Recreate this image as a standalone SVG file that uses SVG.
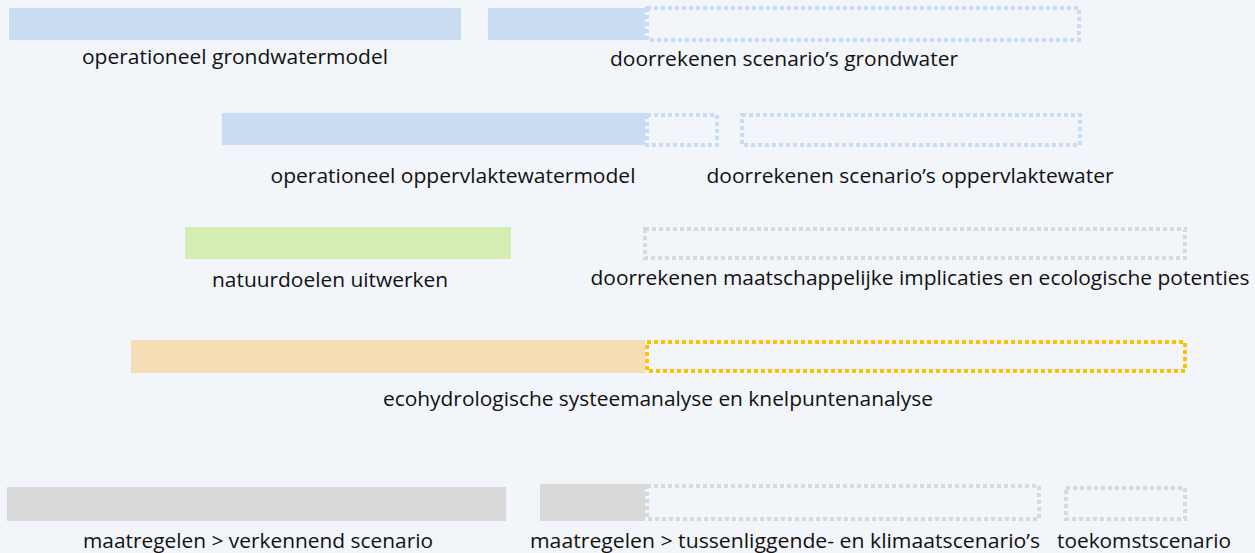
<svg xmlns="http://www.w3.org/2000/svg" width="1255" height="553" viewBox="0 0 1255 553">
<style>
text{font-family:"Open Sans","Noto Sans","Liberation Sans",sans-serif;font-size:20px;fill:#111;text-anchor:middle}
.blue{fill:#c9dcf2}
.green{fill:#d5ecb3}
.tan{fill:#f5deb6}
.gray{fill:#d9d9d9}
.dot{fill:none;stroke-width:4;stroke-dasharray:4 3}
.db{stroke:#c9dcf2}
.dg{stroke:#d9d9d9}
.dy{stroke:#ffc000}
</style>
<rect width="1255" height="553" fill="#f2f5fa"/>
<g id="grondwatermodel">
<rect class="blue" x="9" y="8" width="452" height="32"/>
<text x="235" y="64" textLength="306" lengthAdjust="spacingAndGlyphs">operationeel grondwatermodel</text>
</g>
<g id="scenario-grondwater">
<rect class="blue" x="488" y="8" width="157" height="32"/>
<rect class="dot db" x="647" y="8" width="432" height="32"/>
<text x="784" y="66" textLength="348" lengthAdjust="spacingAndGlyphs">doorrekenen scenario’s grondwater</text>
</g>
<g id="oppervlaktewatermodel">
<rect class="blue" x="222" y="113" width="423" height="32"/>
<rect class="dot db" x="647" y="115" width="70" height="30"/>
<text x="453" y="183" textLength="365" lengthAdjust="spacingAndGlyphs">operationeel oppervlaktewatermodel</text>
</g>
<g id="scenario-oppervlaktewater">
<rect class="dot db" x="742" y="115" width="338" height="30"/>
<text x="910" y="183" textLength="407" lengthAdjust="spacingAndGlyphs">doorrekenen scenario’s oppervlaktewater</text>
</g>
<g id="natuurdoelen">
<rect class="green" x="185" y="227" width="326" height="32"/>
<text x="330" y="287" textLength="236" lengthAdjust="spacingAndGlyphs">natuurdoelen uitwerken</text>
</g>
<g id="maatschappelijke-implicaties">
<rect class="dot dg" x="645" y="229" width="540" height="29"/>
<text x="920" y="285" textLength="659" lengthAdjust="spacingAndGlyphs">doorrekenen maatschappelijke implicaties en ecologische potenties</text>
</g>
<g id="systeemanalyse">
<rect class="tan" x="131" y="340" width="514" height="33"/>
<rect class="dot dy" x="647" y="342" width="538" height="29"/>
<text x="658" y="406" textLength="550" lengthAdjust="spacingAndGlyphs">ecohydrologische systeemanalyse en knelpuntenanalyse</text>
</g>
<g id="verkennend-scenario">
<rect class="gray" x="7" y="487" width="499" height="34"/>
<text x="258" y="548" textLength="350" lengthAdjust="spacingAndGlyphs">maatregelen &gt; verkennend scenario</text>
</g>
<g id="klimaatscenarios">
<rect class="gray" x="540" y="484" width="105" height="37"/>
<rect class="dot dg" x="647" y="486" width="392" height="33"/>
<text x="785" y="548" textLength="510" lengthAdjust="spacingAndGlyphs">maatregelen &gt; tussenliggende- en klimaatscenario’s</text>
</g>
<g id="toekomstscenario">
<rect class="dot dg" x="1066" y="488" width="119" height="31"/>
<text x="1144" y="548" textLength="174" lengthAdjust="spacingAndGlyphs">toekomstscenario</text>
</g>
<g id="connectors"></g>
</svg>
